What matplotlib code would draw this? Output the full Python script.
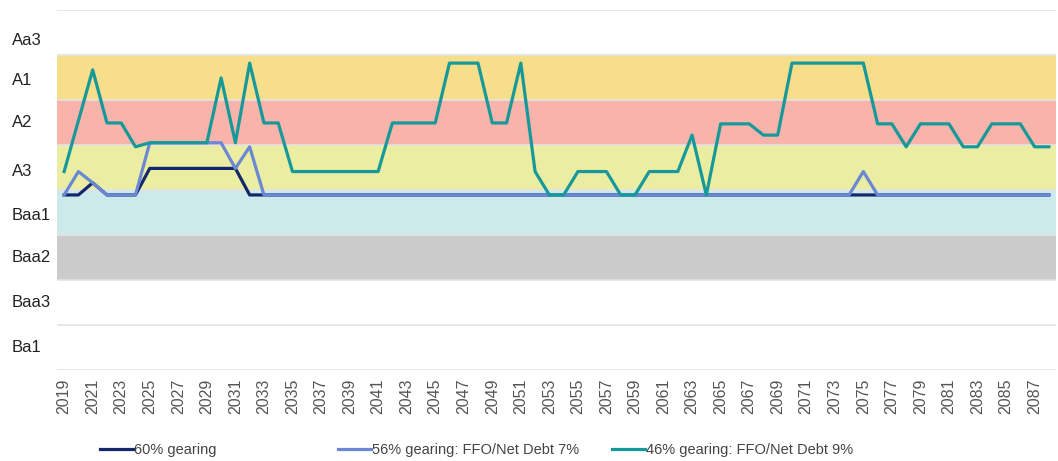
import matplotlib
matplotlib.use("Agg")
import matplotlib.pyplot as plt
import matplotlib.transforms as mtransforms
import numpy as np

plt.rcParams['font.family'] = ['Liberation Sans', 'DejaVu Sans']

years = list(range(2019, 2089))

# rating scale, bottom (0) to top (8)
rating_labels = ["Ba1", "Baa3", "Baa2", "Baa1", "A3", "A2", "A1", "Aa3"]
rating_label_pos = [0.49, 1.51, 2.49, 3.44, 4.4, 5.51, 6.44, 7.33]

# coloured bands: (low, high, colour)
bands = [(2, 3, "#cbcbcb"), (3, 4, "#cdeaea"), (4, 5, "#ebeea2"),
         (5, 6, "#f8b3ab"), (6, 7, "#f6de8a")]

g60 = [3.89, 3.89, 4.16, 3.89, 3.89, 3.89, 4.48, 4.48, 4.48, 4.48,
       4.48, 4.48, 4.48, 3.89, 3.89] + [3.89] * 55

g56 = [3.89, 4.41, 4.16, 3.89, 3.89, 3.89, 5.05, 5.05, 5.05, 5.05,
       5.05, 5.05, 4.48, 4.96, 3.89] + [3.89] * 41 + [4.41] + [3.89] * 13

g46 = [4.41, 5.54, 6.67, 5.49, 5.49, 4.96, 5.05, 5.05, 5.05, 5.05,   # 2019-2028
       5.05, 6.49, 5.05, 6.82, 5.49, 5.49, 4.41, 4.41, 4.41, 4.41,   # 2029-2038
       4.41, 4.41, 4.41, 5.49, 5.49, 5.49, 5.49, 6.82, 6.82, 6.82,   # 2039-2048
       5.49, 5.49, 6.82, 4.41, 3.89, 3.89, 4.41, 4.41, 4.41, 3.89,   # 2049-2058
       3.89, 4.41, 4.41, 4.41, 5.22, 3.89, 5.47, 5.47, 5.47, 5.22,   # 2059-2068
       5.22, 6.82, 6.82, 6.82, 6.82, 6.82, 6.82, 5.47, 5.47, 4.96,   # 2069-2078
       5.47, 5.47, 5.47, 4.96, 4.96, 5.47, 5.47, 5.47, 4.96, 4.96]   # 2079-2088

series_names = ["60% gearing", "56% gearing: FFO/Net Debt 7%", "46% gearing: FFO/Net Debt 9%"]
colors = ["#13276b", "#6a88d4", "#17999a"]

fig = plt.figure(figsize=(10.58, 4.61), dpi=100)
ax = fig.add_axes([57 / 1058, 91 / 461, 999 / 1058, 360 / 461])

x = np.arange(len(years))
for lo, hi, c in bands:
    ax.axhspan(lo, hi, color=c, lw=0, zorder=0)
for yv in range(0, 9):
    ax.axhline(yv, color="#e3e3e3", lw=1.2, zorder=1)

l60, = ax.plot(x, g60, color=colors[0], lw=2.3, zorder=3)
l56, = ax.plot(x, g56, color=colors[1], lw=2.3, zorder=4)
l46, = ax.plot(x, g46, color=colors[2], lw=2.3, zorder=5)

ax.set_xlim(-0.5, len(years) - 0.5)
ax.set_ylim(0, 8)
ax.set_yticks([])
ax.set_xticks(x[::2])
ax.set_xticklabels([str(y) for y in years[::2]], rotation=90, fontsize=11.5, color="#555555")
ax.tick_params(length=0, pad=6)
for s in ax.spines.values():
    s.set_visible(False)

# rating labels, left aligned near the figure edge
trans = mtransforms.blended_transform_factory(fig.transFigure, ax.transData)
for lab, pos in zip(rating_labels, rating_label_pos):
    ax.text(12 / 1058, pos, lab, transform=trans, ha="left", va="center",
            fontsize=12, color="#222222")

leg_x = [100, 338, 612]
for h, name, lx in zip([l60, l56, l46], series_names, leg_x):
    fig.legend([h], [name], loc="center left", bbox_to_anchor=(lx / 1058, 11 / 461),
               frameon=False, fontsize=10.5, handlelength=2.25, handletextpad=0.1,
               borderpad=0, borderaxespad=0, labelcolor="#444444")

fig.savefig("out.png", dpi=100)
